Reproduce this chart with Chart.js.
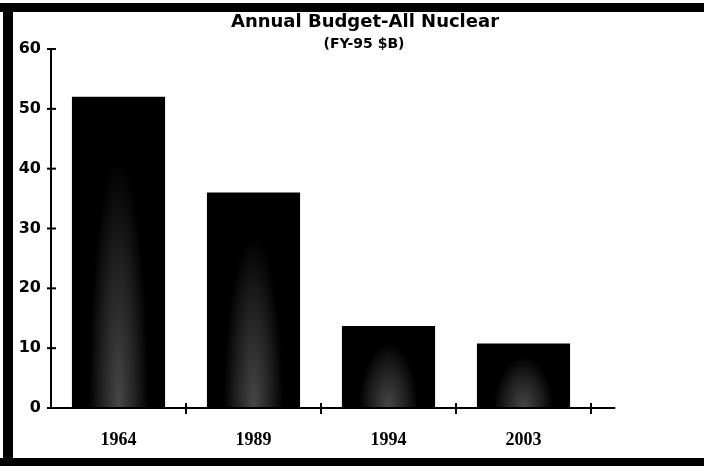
<!DOCTYPE html>
<html>
<head>
<meta charset="utf-8">
<script src="https://cdn.jsdelivr.net/npm/chart.js@4"></script>
<style>
  html, body { margin: 0; padding: 0; background: #fff; }
  #grafico { display: block; }
</style>
</head>
<body>
<canvas id="grafico" width="704" height="466"></canvas>
<script>
const anos = ["1964", "1989", "1994", "2003"]
const orcamento = [52, 36, 13.7, 10.8]
const yTicks = [0, 10, 20, 30, 40, 50, 60]

const titulo = "Annual Budget-All Nuclear"
const subtitulo = "(FY-95 $B)"

const grafico = document.getElementById("grafico")

// moldura preta + titulo + eixos desenhados a mao
const moldura = {
  id: "moldura",
  beforeDraw(chart) {
    const ctx = chart.ctx
    ctx.save()
    ctx.fillStyle = "#fff"
    ctx.fillRect(0, 0, chart.width, chart.height)
    ctx.fillStyle = "#000"
    ctx.fillRect(0, 3, chart.width, 9)
    ctx.fillRect(3, 3, 10, chart.height - 3)
    ctx.fillRect(0, 458, chart.width, 8)
    ctx.restore()
  },
  afterDatasetsDraw(chart) {
    // brilho pontilhado no meio das barras
    const ctx = chart.ctx
    chart.getDatasetMeta(0).data.forEach(bar => {
      const w = bar.width
      const h = bar.base - bar.y
      ctx.save()
      ctx.beginPath()
      ctx.rect(bar.x - w / 2, bar.y, w, h)
      ctx.clip()
      ctx.translate(bar.x, bar.base)
      ctx.scale(1, (h * 0.8) / (w * 0.32))
      const g = ctx.createRadialGradient(0, 0, 0, 0, 0, w * 0.32)
      g.addColorStop(0, "rgba(255,255,255,0.28)")
      g.addColorStop(0.6, "rgba(255,255,255,0.12)")
      g.addColorStop(1, "rgba(255,255,255,0)")
      ctx.fillStyle = g
      ctx.fillRect(-w / 2, -h * 2, w, h * 4)
      ctx.restore()
    })
  },
  afterDraw(chart) {
    const ctx = chart.ctx
    const x = chart.scales.x
    const y = chart.scales.y
    const area = chart.chartArea
    ctx.save()
    ctx.fillStyle = "#000"
    ctx.textAlign = "center"
    ctx.font = "bold 18px 'DejaVu Sans'"
    ctx.fillText(titulo, 365, 27)
    ctx.font = "bold 14px 'DejaVu Sans'"
    ctx.fillText(subtitulo, 364, 48)

    ctx.strokeStyle = "#000"
    ctx.lineWidth = 2
    ctx.beginPath()
    ctx.moveTo(area.left, y.getPixelForValue(60))
    ctx.lineTo(area.left, area.bottom)
    ctx.stroke()
    yTicks.forEach(v => {
      const py = y.getPixelForValue(v)
      ctx.beginPath()
      ctx.moveTo(area.left - 4, py)
      ctx.lineTo(area.left + 5, py)
      ctx.stroke()
    })

    const passo = x.getPixelForValue(1) - x.getPixelForValue(0)
    ctx.beginPath()
    ctx.moveTo(area.left, area.bottom)
    ctx.lineTo(area.right + passo * 0.18, area.bottom)
    ctx.stroke()
    anos.forEach((a, i) => {
      const px = x.getPixelForValue(i) + passo / 2
      ctx.beginPath()
      ctx.moveTo(px, area.bottom - 5)
      ctx.lineTo(px, area.bottom + 6)
      ctx.stroke()
    })
    ctx.restore()
  }
}

new Chart(grafico, {
  type: "bar",
  data: {
    labels: anos,
    datasets: [{
      label: "orcamento",
      data: orcamento,
      backgroundColor: "#000",
      borderWidth: 0,
      barPercentage: 0.69,
      categoryPercentage: 1
    }]
  },
  options: {
    responsive: false,
    animation: false,
    devicePixelRatio: 1,
    layout: { padding: { top: 49, right: 113, left: 0, bottom: 0 } },
    plugins: {
      legend: { display: false },
      tooltip: { enabled: false }
    },
    scales: {
      x: {
        grid: { display: false, drawTicks: false },
        border: { display: false },
        ticks: {
          color: "#000",
          padding: 22,
          font: { family: "'Liberation Serif'", size: 18, weight: "bold" }
        },
        afterFit: s => { s.height = 58 }
      },
      y: {
        min: 0,
        max: 60,
        grid: { display: false, drawTicks: false },
        border: { display: false },
        ticks: {
          stepSize: 10,
          color: "#000",
          padding: 10,
          font: { family: "'DejaVu Sans'", size: 16, weight: "bold" }
        },
        afterFit: s => { s.width = 51 }
      }
    }
  },
  plugins: [moldura]
})
</script>
</body>
</html>
